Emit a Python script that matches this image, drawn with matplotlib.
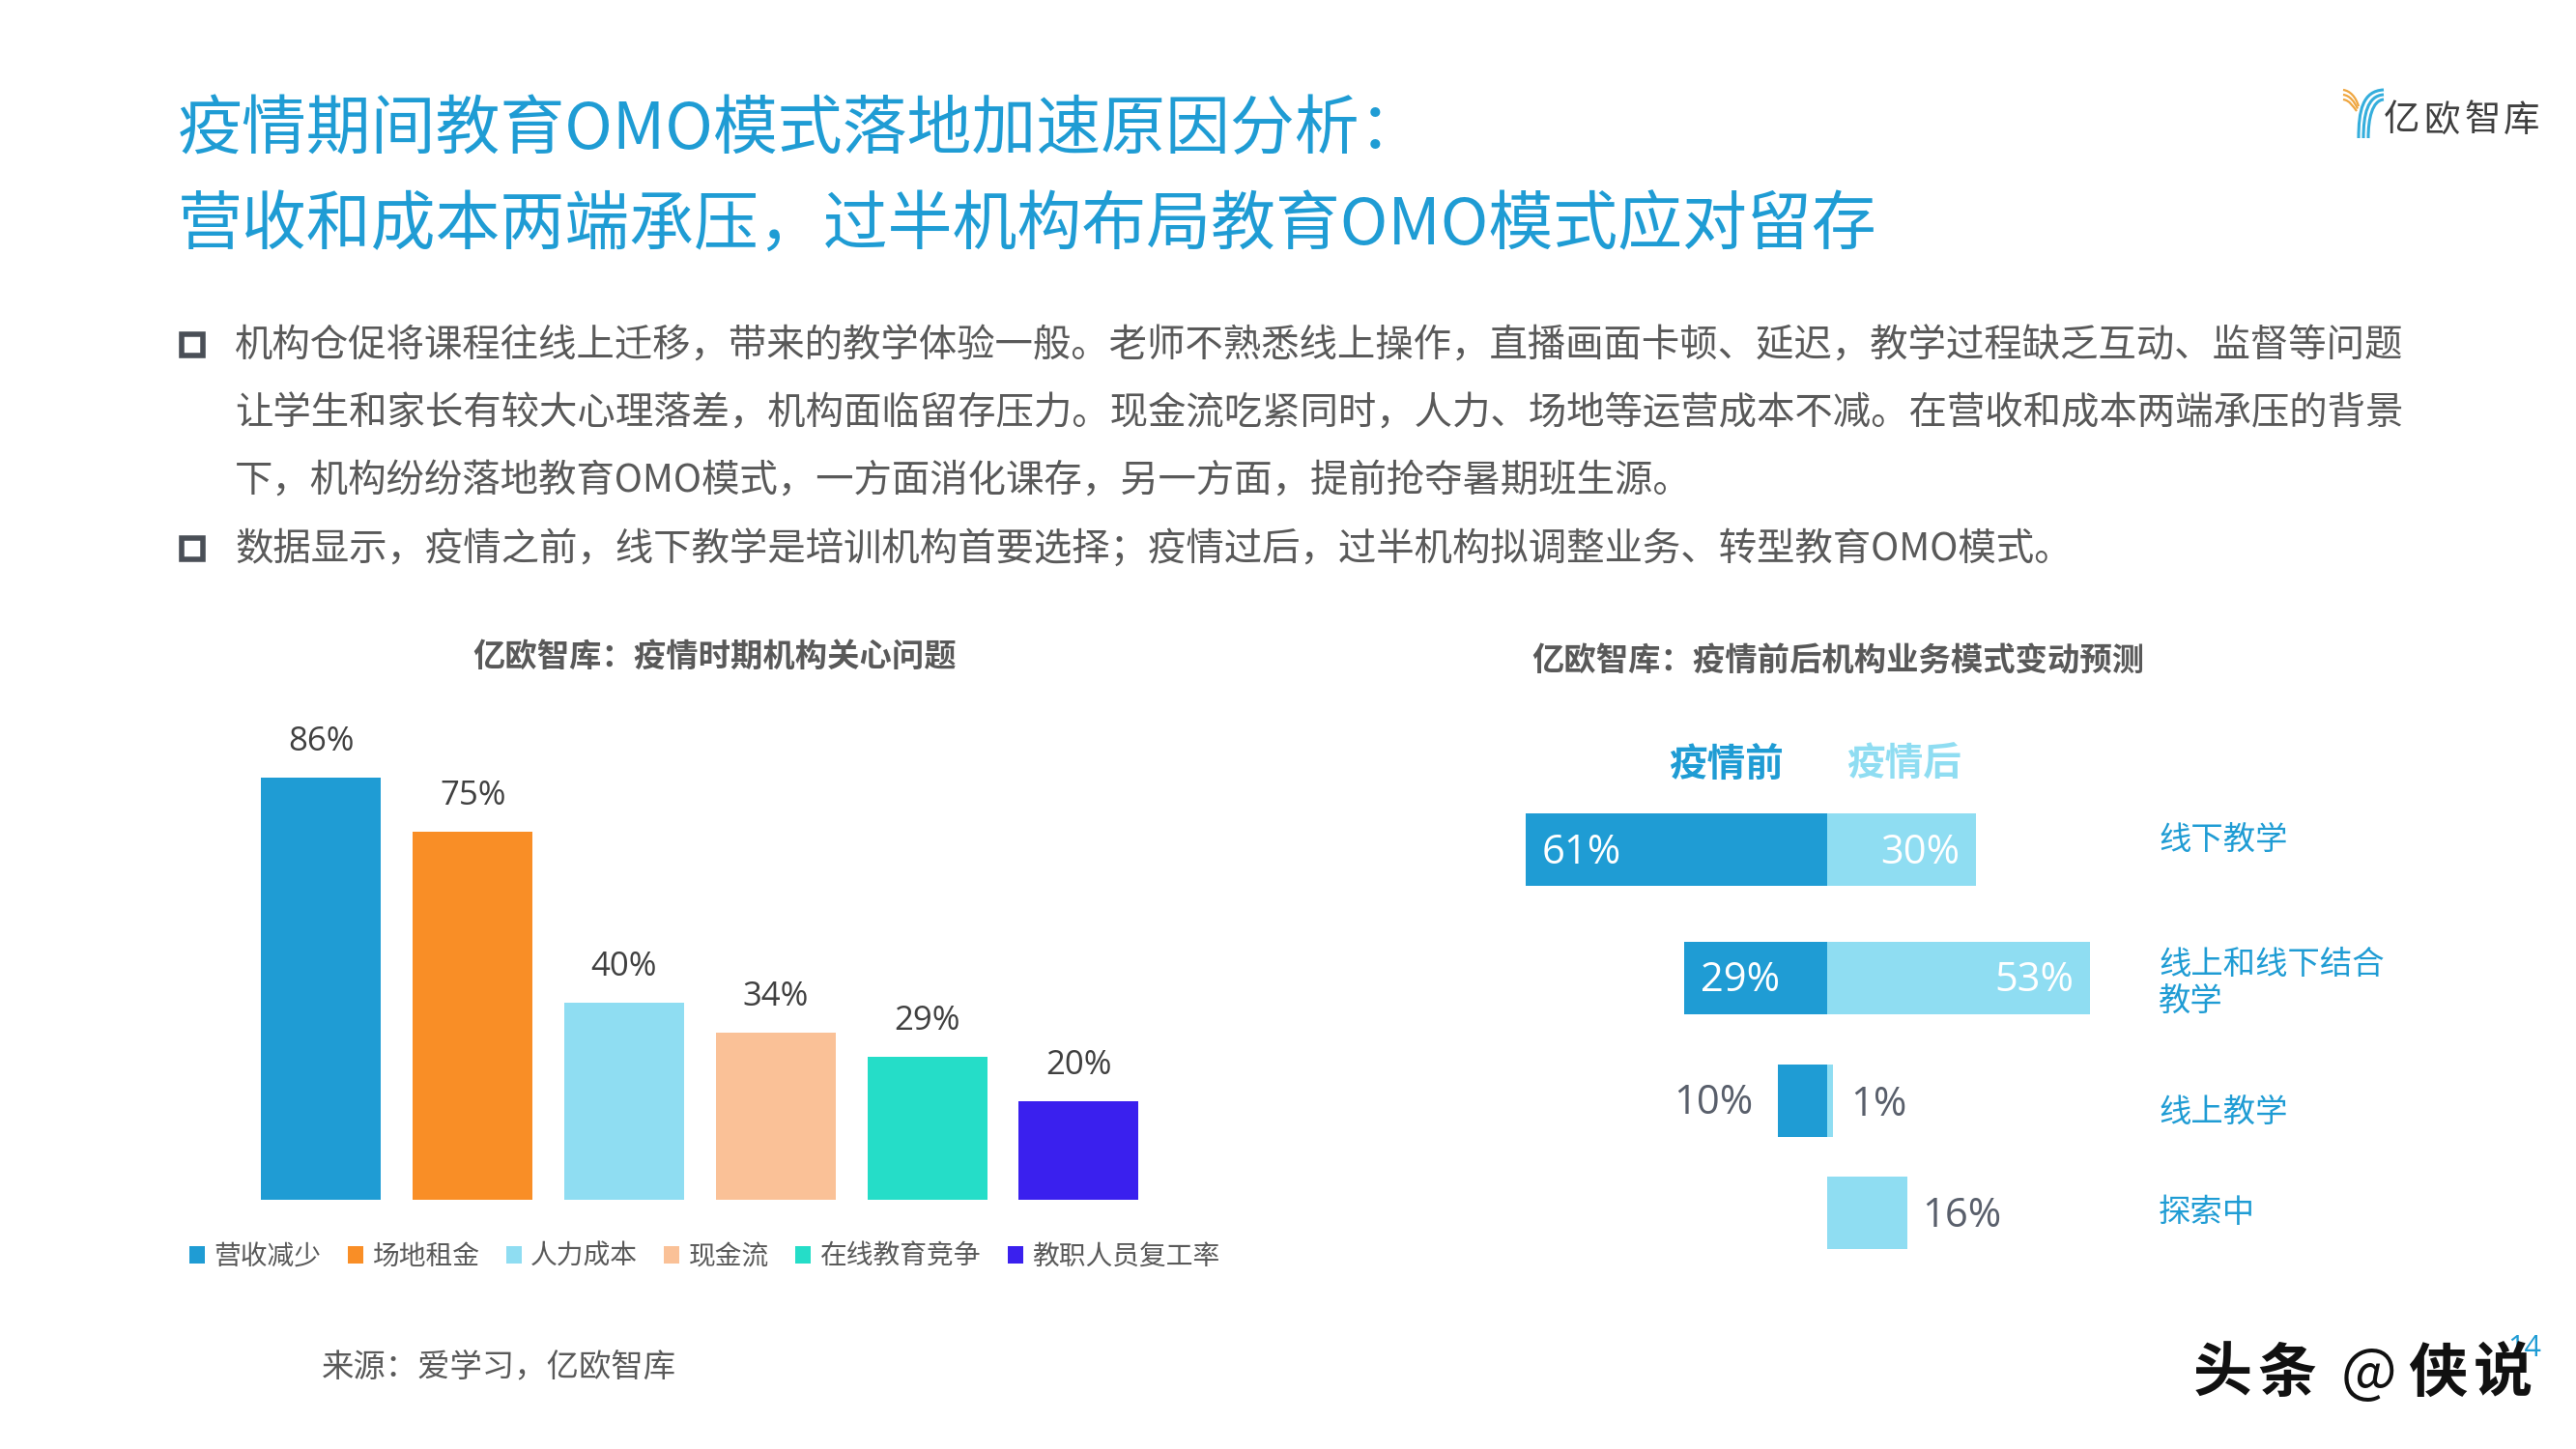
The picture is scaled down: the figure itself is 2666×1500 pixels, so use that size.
import matplotlib
matplotlib.use("Agg")
import matplotlib.pyplot as plt
from matplotlib.patches import PathPatch, Rectangle
from matplotlib.path import Path

plt.rcParams['font.family'] = ['Noto Sans CJK SC', 'DejaVu Sans']

C, K, S = "\uff0c", "\uff1a", "\uff1b"  # full-width comma, colon, semicolon

# ---- data ----
title_lines = ["疫情期间教育OMO模式落地加速原因分析" + K,
               "营收和成本两端承压" + C + "过半机构布局教育OMO模式应对留存"]
body_lines = ["机构仓促将课程往线上迁移" + C + "带来的教学体验一般。老师不熟悉线上操作" + C + "直播画面卡顿、延迟" + C + "教学过程缺乏互动、监督等问题",
              "让学生和家长有较大心理落差" + C + "机构面临留存压力。现金流吃紧同时" + C + "人力、场地等运营成本不减。在营收和成本两端承压的背景",
              "下" + C + "机构纷纷落地教育OMO模式" + C + "一方面消化课存" + C + "另一方面" + C + "提前抢夺暑期班生源。",
              "数据显示" + C + "疫情之前" + C + "线下教学是培训机构首要选择" + S + "疫情过后" + C + "过半机构拟调整业务、转型教育OMO模式。"]
left_title = "亿欧智库" + K + "疫情时期机构关心问题"
right_title = "亿欧智库" + K + "疫情前后机构业务模式变动预测"
issues = ["营收减少", "场地租金", "人力成本", "现金流", "在线教育竞争", "教职人员复工率"]
issue_pct = [86, 75, 40, 34, 29, 20]
issue_colors = ["#1F9CD4", "#F98E26", "#8FDDF2", "#FAC197", "#25DDC8", "#3A20EE"]
modes = ["线下教学", "线上和线下结合\n教学", "线上教学", "探索中"]
before_pct = [61, 29, 10, 0]
after_pct = [30, 53, 1, 16]
before_name, after_name = "疫情前", "疫情后"
source = "来源" + K + "爱学习" + C + "亿欧智库"

W, H = 2666, 1500
BLUE, LIGHT, GREY = "#1F9CD4", "#8FDDF2", "#595959"
PCT_FONT = ['Open Sans', 'DejaVu Sans']

fig = plt.figure(figsize=(W / 100, H / 100), dpi=100, facecolor="white")


def px_axes(x0, y0, x1, y1):
    a = fig.add_axes([x0 / W, 1 - y1 / H, (x1 - x0) / W, (y1 - y0) / H])
    a.set_axis_off()
    return a


# ---- left chart ----
ax = px_axes(254, 733.5, 1194.8, 1241.5)
ax.set_xlim(-0.5, 5.5)
ax.set_ylim(0, 100)
bars = ax.bar(range(len(issues)), issue_pct, width=0.79, color=issue_colors, label=None)
for i, v in enumerate(issue_pct):
    ax.annotate(f"{v}%", (i, v), xytext=(0, 26.5), textcoords="offset points",
                ha="center", va="center", fontsize=25, color="#404040",
                family=PCT_FONT)
fig.legend(bars, issues, loc="center left", bbox_to_anchor=(196 / W, 1 - 1301 / H),
           ncol=6, frameon=False, fontsize=20, labelcolor=GREY,
           handlelength=0.58, handleheight=0.6, handletextpad=0.33,
           columnspacing=0.99, borderpad=0, borderaxespad=0)

# ---- right chart ----
SCALE = 5.13
ZERO = 1891.5
ROW_CENTERS = [879, 1012.5, 1139, 1255.5]
ax2 = px_axes(ZERO - 70 * SCALE, 800, ZERO + 70 * SCALE, 1310)
ax2.set_xlim(-70, 70)
ax2.set_ylim(1310, 800)
ax2.barh(ROW_CENTERS, [-v for v in before_pct], height=75, color=BLUE)
ax2.barh(ROW_CENTERS, after_pct, height=75, color=LIGHT)


def lab(x, y, v, dx, ha, color, dy=0):
    ax2.annotate(f"{v}%", (x, y), xytext=(dx * 0.72, -dy * 0.72), textcoords="offset points",
                 ha=ha, va="center", fontsize=30, color=color, family=PCT_FONT)


lab(-before_pct[0], ROW_CENTERS[0], before_pct[0], 17, "left", "white", dy=4)
lab(after_pct[0], ROW_CENTERS[0], after_pct[0], -17, "right", "white", dy=4)
lab(-before_pct[1], ROW_CENTERS[1], before_pct[1], 17, "left", "white", dy=3)
lab(after_pct[1], ROW_CENTERS[1], after_pct[1], -17, "right", "white", dy=3)
lab(-before_pct[2], ROW_CENTERS[2], before_pct[2], -26, "right", "#595F6B", dy=3)
lab(after_pct[2], ROW_CENTERS[2], after_pct[2], 19, "left", "#595F6B", dy=5)
lab(after_pct[3], ROW_CENTERS[3], after_pct[3], 16, "left", "#595F6B", dy=3)

# ---- overlay in pixel coordinates ----
ov = fig.add_axes([0, 0, 1, 1], zorder=5)
ov.set_xlim(0, W)
ov.set_ylim(H, 0)
ov.set_axis_off()
ov.patch.set_alpha(0)


def T(x, y, s, size, color=GREY, ha="left", va="center", **kw):
    return ov.text(x, y, s, fontsize=size, color=color, ha=ha, va=va, **kw)


for y, s in zip([135, 235], title_lines):
    T(184, y, s, 48.2, color=BLUE)
for y, s in zip([359, 429, 499, 570], body_lines):
    T(243, y, s, 28.4)
for y in (357, 568):
    ov.add_patch(Rectangle((188, y - 11), 22, 22, fill=False, ec="#4A4F57", lw=4))

T(740, 680, left_title, 24, ha="center", weight="bold")
T(1902, 685, right_title, 24, ha="center", weight="bold")
T(1787, 791, before_name, 28.5, color=BLUE, ha="center", weight="bold")
T(1971, 791, after_name, 28.5, color=LIGHT, ha="center", weight="bold")
label_y = [870, 1018, 1152, 1256]
for y, s in zip(label_y, modes):
    T(2234, y, s, 24, color=BLUE, linespacing=1.15)
T(333, 1416, source, 24)

# logo
for off in (0, 5, 10):
    ov.add_patch(PathPatch(Path([(2425, 93 + off), (2432, 94 + off), (2438 - off * .3, 100 + off), (2441 - off * .2, 110 + off / 2)],
                                [1, 4, 4, 4]), fill=False, ec="#EFA640", lw=1.6))
for off in (0, 5, 10):
    ov.add_patch(PathPatch(Path([(2441 + off, 143), (2441 + off, 115 + off * 0.8), (2445 + off, 94 + off), (2467, 93 + off)],
                                [1, 4, 4, 4]), fill=False, ec="#35AEDC", lw=2.2))
for x, s in zip([2486, 2527, 2569, 2610], "亿欧智库"):
    T(x, 125, s, 27, color="#3F3F3F", ha="center")

# page number and watermark
T(2613, 1396, "14", 22, color=BLUE, ha="center", family=PCT_FONT)
for x, s in zip([2300, 2367, 2451, 2523, 2590], "头条@侠说"):
    T(x, 1423, s, 44, color="#111111", ha="center", weight="bold" if s != "@" else "normal")

fig.savefig("out.png", dpi=100, facecolor="white")
